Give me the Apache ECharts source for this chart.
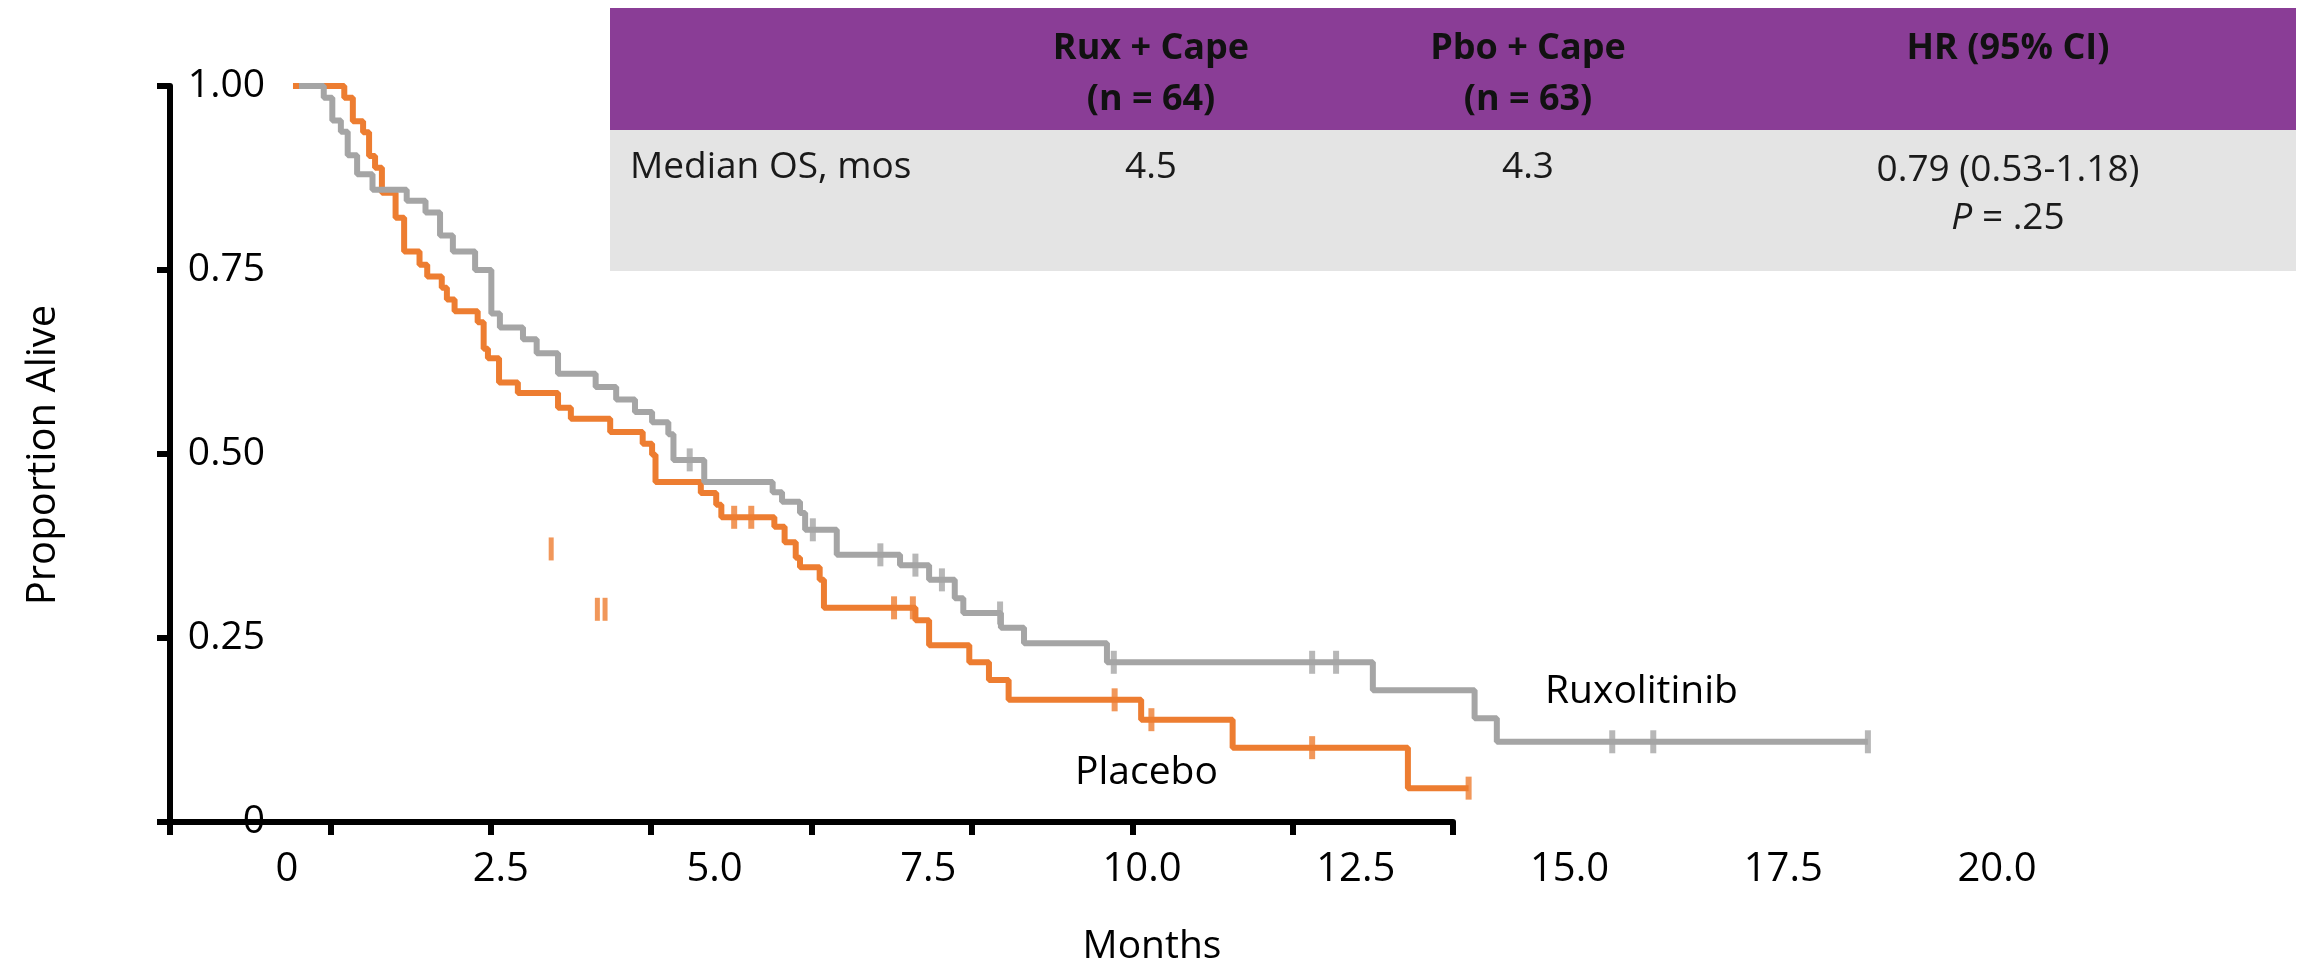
<!DOCTYPE html>
<html>
<head>
<meta charset="utf-8">
<title>Overall survival: Ruxolitinib vs Placebo</title>
<script src="https://cdn.jsdelivr.net/npm/echarts@6/dist/echarts.min.js"></script>
<style>
  html, body { margin: 0; padding: 0; background: #ffffff; }
  #chart { width: 2303px; height: 967px; }
</style>
</head>
<body>
<div id="chart"></div>
<script>
// Kaplan–Meier steps: [month, proportion alive after the event at that month]
const ruxSteps = [
  [0.14, 1.0], [0.43, 0.984], [0.53, 0.953], [0.63, 0.938], [0.71, 0.906], [0.82, 0.880],
  [1.00, 0.859], [1.40, 0.844], [1.62, 0.828], [1.79, 0.797], [1.94, 0.775], [2.20, 0.750],
  [2.39, 0.691], [2.49, 0.672], [2.76, 0.656], [2.92, 0.637], [3.17, 0.609], [3.61, 0.591],
  [3.85, 0.574], [4.07, 0.557], [4.27, 0.543], [4.46, 0.527], [4.52, 0.492], [4.88, 0.462],
  [5.68, 0.448], [5.79, 0.435], [6.00, 0.420], [6.06, 0.397], [6.43, 0.363], [7.17, 0.349],
  [7.51, 0.329], [7.81, 0.304], [7.91, 0.284], [8.35, 0.264], [8.62, 0.243], [9.59, 0.217],
  [12.70, 0.179], [13.89, 0.141], [14.15, 0.109], [18.49, 0.109]
];
const pboSteps = [
  [0.07, 1.0], [0.67, 0.984], [0.77, 0.952], [0.89, 0.937], [0.96, 0.905], [1.03, 0.889],
  [1.11, 0.855], [1.27, 0.821], [1.37, 0.775], [1.55, 0.757], [1.64, 0.741], [1.81, 0.726],
  [1.87, 0.710], [1.96, 0.694], [2.23, 0.679], [2.30, 0.643], [2.35, 0.630], [2.48, 0.597],
  [2.70, 0.583], [3.17, 0.563], [3.32, 0.548], [3.78, 0.530], [4.16, 0.514], [4.27, 0.499],
  [4.31, 0.462], [4.84, 0.447], [5.02, 0.431], [5.08, 0.414], [5.70, 0.401], [5.82, 0.380],
  [5.95, 0.359], [6.00, 0.346], [6.23, 0.329], [6.28, 0.291], [7.35, 0.274], [7.51, 0.240],
  [7.98, 0.217], [8.21, 0.193], [8.44, 0.166], [9.99, 0.139], [11.06, 0.101], [13.11, 0.046],
  [13.82, 0.046]
];
// Censoring times (months)
const ruxCensored = [4.71, 6.15, 6.94, 7.35, 7.66, 8.34, 9.67, 11.99, 12.27, 15.50, 15.98, 18.49];
const pboCensored = [5.23, 5.43, 7.10, 7.32, 9.68, 10.11, 11.99, 13.82];
// Loose placebo censor marks sitting off the curve
const pboLooseMarks = [[3.09, 0.371], [3.63, 0.289], [3.72, 0.289]];

// Axis ticks
const monthTicks = [0, 2.5, 5.0, 7.5, 10.0, 12.5, 15.0, 17.5, 20.0];
const survivalTicks = [0, 0.25, 0.50, 0.75, 1.00];

// Summary table
const tableHeader = ['', 'Rux + Cape\n(n = 64)', 'Pbo + Cape\n(n = 63)', 'HR (95% CI)'];
const tableRow = ['Median OS, mos', '4.5', '4.3', '0.79 (0.53-1.18)'];
const tablePValue = '.25';

const seriesNames = ['Ruxolitinib', 'Placebo'];

const FONT = '"Open Sans", "DejaVu Sans", sans-serif';
const ORANGE = '#ED7D31';
const GRAY = '#A5A5A5';
const PURPLE = '#8A3D96';
const LIGHT = '#E4E4E4';

function levelAt(steps, t) {
  let s = steps[0][1];
  for (const [m, v] of steps) {
    if (m <= t) s = v; else break;
  }
  return s;
}

const chart = echarts.init(document.getElementById('chart'), null, { renderer: 'canvas' });

const tickLine = { color: '#000', width: 6 };

const tableLeft = 610, tableRight = 2296;
const headTop = 8, headBottom = 130, bodyBottom = 271;
const colCenters = [null, 1151, 1528, 2008];

const tableGraphics = [
  { type: 'rect', shape: { x: tableLeft, y: headTop, width: tableRight - tableLeft, height: headBottom - headTop }, style: { fill: PURPLE }, z: 1 },
  { type: 'rect', shape: { x: tableLeft, y: headBottom, width: tableRight - tableLeft, height: bodyBottom - headBottom }, style: { fill: LIGHT }, z: 1 }
];
for (let c = 1; c < tableHeader.length; c++) {
  tableGraphics.push({
    type: 'text', x: colCenters[c], y: 47, z: 2,
    style: { text: tableHeader[c], fontFamily: FONT, fontSize: 36, fontWeight: 'bold', fill: '#111',
             align: 'center', verticalAlign: 'top', lineHeight: 51, y: -24 }
  });
}
tableGraphics.push({
  type: 'text', x: 630, y: 167, z: 2,
  style: { text: tableRow[0], fontFamily: FONT, fontSize: 37, fill: '#1a1a1a', align: 'left', verticalAlign: 'middle' }
});
for (let c = 1; c < tableRow.length; c++) {
  tableGraphics.push({
    type: 'text', x: colCenters[c], y: c === 3 ? 170 : 167, z: 2,
    style: { text: tableRow[c], fontFamily: FONT, fontSize: 37, fill: '#1a1a1a', align: 'center', verticalAlign: 'middle' }
  });
}
tableGraphics.push({
  type: 'text', x: colCenters[3], y: 218, z: 2,
  style: {
    text: '{i|P} = ' + tablePValue, fontFamily: FONT, fontSize: 37, fill: '#1a1a1a',
    align: 'center', verticalAlign: 'middle',
    rich: { i: { fontStyle: 'italic', fontFamily: FONT, fontSize: 37, fill: '#1a1a1a' } }
  }
});

const option = {
  animation: false,
  backgroundColor: '#ffffff',
  grid: [
    { left: 287, right: 306, top: 86, bottom: 145 },
    { left: 170, right: 850, top: 86, bottom: 145 }
  ],
  xAxis: [
    {
      gridIndex: 0, type: 'value', min: monthTicks[0], max: monthTicks[monthTicks.length - 1], interval: 2.5,
      axisLine: { show: false }, axisTick: { show: false }, splitLine: { show: false },
      axisLabel: {
        margin: 28, fontSize: 40, fontFamily: FONT, color: '#000',
        formatter: v => (v === 0 ? '0' : v.toFixed(1))
      }
    },
    {
      gridIndex: 1, type: 'value', min: 0, max: 8, interval: 1,
      axisLine: { show: true, lineStyle: tickLine },
      axisTick: { show: true, length: 13, lineStyle: tickLine },
      axisLabel: { show: false }, splitLine: { show: false }
    }
  ],
  yAxis: [
    { gridIndex: 0, type: 'value', min: 0, max: 1, show: false },
    {
      gridIndex: 1, type: 'value', min: survivalTicks[0], max: survivalTicks[survivalTicks.length - 1], interval: 0.25,
      axisLine: { show: true, lineStyle: tickLine },
      axisTick: { show: true, length: 13, lineStyle: tickLine },
      splitLine: { show: false },
      axisLabel: {
        inside: true, margin: 95, align: 'right', fontSize: 39, fontFamily: FONT, color: '#000',
        formatter: v => (v === 0 ? '0' : v.toFixed(2))
      }
    }
  ],
  series: [
    {
      name: seriesNames[1], type: 'line', xAxisIndex: 0, yAxisIndex: 0, step: 'end',
      data: pboSteps, showSymbol: false, symbol: 'none',
      lineStyle: { color: ORANGE, width: 6 }, z: 3
    },
    {
      name: seriesNames[0], type: 'line', xAxisIndex: 0, yAxisIndex: 0, step: 'end',
      data: ruxSteps, showSymbol: false, symbol: 'none',
      lineStyle: { color: GRAY, width: 6 }, z: 4
    },
    {
      name: seriesNames[1] + ' censored', type: 'scatter', xAxisIndex: 0, yAxisIndex: 0,
      data: pboCensored.map(t => [t, levelAt(pboSteps, t)]),
      symbol: 'rect', symbolSize: [6, 23], itemStyle: { color: ORANGE }, z: 5
    },
    {
      name: seriesNames[1] + ' loose marks', type: 'scatter', xAxisIndex: 0, yAxisIndex: 0,
      data: pboLooseMarks,
      symbol: 'rect', symbolSize: [5, 23], itemStyle: { color: ORANGE }, z: 5
    },
    {
      name: seriesNames[0] + ' censored', type: 'scatter', xAxisIndex: 0, yAxisIndex: 0,
      data: ruxCensored.map(t => [t, levelAt(ruxSteps, t)]),
      symbol: 'rect', symbolSize: [6, 23], itemStyle: { color: GRAY }, z: 5
    }
  ],
  graphic: tableGraphics.concat([
    {
      type: 'text', x: 44, y: 455, rotation: Math.PI / 2,
      style: { text: 'Proportion Alive', fontFamily: FONT, fontSize: 40, fill: '#000', align: 'center', verticalAlign: 'middle' }
    },
    {
      type: 'text', x: 1152, y: 947,
      style: { text: 'Months', fontFamily: FONT, fontSize: 39, fill: '#000', align: 'center', verticalAlign: 'middle' }
    },
    {
      type: 'text', x: 1545, y: 692,
      style: { text: seriesNames[0], fontFamily: FONT, fontSize: 39, fill: '#000', align: 'left', verticalAlign: 'middle' }
    },
    {
      type: 'text', x: 1075, y: 773,
      style: { text: seriesNames[1], fontFamily: FONT, fontSize: 39, fill: '#000', align: 'left', verticalAlign: 'middle' }
    }
  ])
};

chart.setOption(option);
</script>
</body>
</html>
